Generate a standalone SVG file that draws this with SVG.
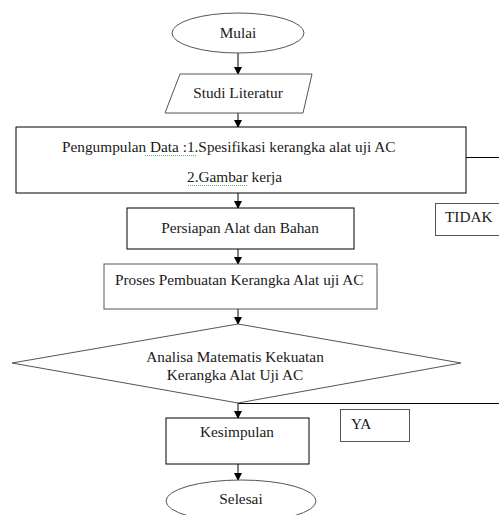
<svg xmlns="http://www.w3.org/2000/svg" width="499" height="515" viewBox="0 0 499 515">
<defs>
<marker id="ah" markerWidth="8" markerHeight="8" refX="7" refY="4" orient="auto" markerUnits="userSpaceOnUse">
<path d="M0,0 L8,4 L0,8 Z" fill="#000"/>
</marker>
<style>
.s{fill:#fff;stroke:#000;stroke-width:1}
.d{fill:#fff;stroke:#555;stroke-width:1}
.t{font-family:"Liberation Serif","Times New Roman",serif;font-size:15.3px;fill:#1a1a1a}
.c{text-anchor:middle}
.l{stroke:#000;stroke-width:1;fill:none}
.sq{stroke:#3a9a3a;stroke-width:0.8;fill:none;stroke-dasharray:1 1}
</style>
</defs>
<rect width="499" height="515" fill="#fff"/>
<g id="connectors">
<line class="l" x1="238" y1="53" x2="238" y2="74" marker-end="url(#ah)"/>
<line class="l" x1="238" y1="113" x2="238" y2="127" marker-end="url(#ah)"/>
<line class="l" x1="238" y1="193" x2="238" y2="208" marker-end="url(#ah)"/>
<line class="l" x1="238" y1="249" x2="238" y2="264" marker-end="url(#ah)"/>
<line class="l" x1="238" y1="309" x2="238" y2="324" marker-end="url(#ah)"/>
<line class="l" x1="238" y1="403" x2="238" y2="418" marker-end="url(#ah)"/>
<line class="l" x1="238" y1="464" x2="238" y2="480" marker-end="url(#ah)"/>
<line class="l" x1="466" y1="157.5" x2="499" y2="157.5"/>
<line class="l" x1="238" y1="403.5" x2="499" y2="403.5"/>
</g>
<g id="mulai">
<ellipse class="d" cx="238" cy="33" rx="66" ry="20"/>
<text class="t c" x="238" y="38">Mulai</text>
</g>
<g id="studi">
<polygon class="d" points="180,74 312,74 303,113 165,113"/>
<text class="t c" x="238" y="98">Studi Literatur</text>
</g>
<g id="pengumpulan">
<rect class="s" x="16" y="127" width="450" height="66"/>
<text class="t" x="62" y="152">Pengumpulan Data :1.Spesifikasi kerangka alat uji AC</text>
<text class="t" x="187" y="182">2.Gambar kerja</text>
<path class="sq" d="M145,155.5 H197"/>
<path class="sq" d="M188,185.5 H248"/>
</g>
<g id="persiapan">
<rect class="s" x="127" y="208" width="227" height="41"/>
<text class="t c" x="240" y="233">Persiapan Alat dan Bahan</text>
</g>
<g id="tidak">
<rect class="d" x="435.5" y="203.5" width="70" height="32"/>
<text class="t" x="445" y="222">TIDAK</text>
</g>
<g id="proses">
<rect class="d" x="104" y="264" width="273" height="45"/>
<text class="t" x="115" y="285">Proses Pembuatan Kerangka Alat uji AC</text>
</g>
<g id="analisa">
<polygon class="d" points="238,324 461,363 238,403 12,363"/>
<text class="t c" x="235" y="362">Analisa Matematis Kekuatan</text>
<text class="t c" x="235" y="380">Kerangka Alat Uji AC</text>
</g>
<g id="kesimpulan">
<rect class="s" x="166" y="418" width="143" height="46"/>
<text class="t c" x="237" y="437">Kesimpulan</text>
</g>
<g id="ya">
<rect class="d" x="340.5" y="409.5" width="69" height="32"/>
<text class="t" x="351" y="429">YA</text>
</g>
<g id="selesai">
<ellipse class="d" cx="241" cy="501" rx="75" ry="21"/>
<text class="t c" x="241" y="504">Selesai</text>
</g>
</svg>
